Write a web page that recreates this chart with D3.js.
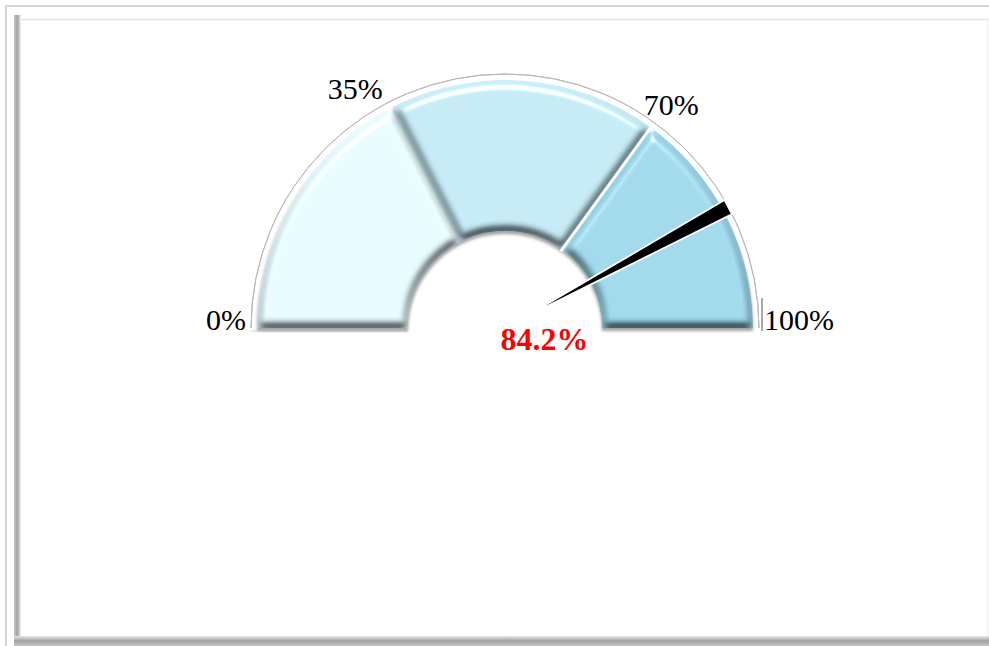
<!DOCTYPE html>
<html>
<head>
<meta charset="utf-8">
<script src="https://cdn.jsdelivr.net/npm/d3@7"></script>
<style>
  html, body { margin: 0; padding: 0; background: #fff; }
  svg { display: block; }
  text { font-family: "Liberation Serif", "Times New Roman", serif; }
</style>
</head>
<body>
<svg id="chart" width="989" height="646"></svg>
<script>
// ── Data ──────────────────────────────────────────────────────────────────
const bandStops = [0, 35, 70, 100];
const tickValues = [0, 35, 70, 100];
const tickLabels = ["0%", "35%", "70%", "100%"];
const gaugeValue = 84.2;
const valueLabel = "84.2%";

const BAND_COLORS = ["#e6f9fd", "#c3e9f3", "#9ed8ea"];

// ── Layout ────────────────────────────────────────────────────────────────
const W = 989, H = 646;
const cx = 505, cy = 328;
const rInner = 97, rOuter = 248, rRim = 254;

const svg = d3.select("#chart");
const defs = svg.append("defs");

// bevel + shadow filter
const f = defs.append("filter").attr("id", "bevel")
  .attr("x", "-10%").attr("y", "-10%").attr("width", "120%").attr("height", "120%");
f.append("feMorphology").attr("in", "SourceAlpha").attr("operator", "erode").attr("radius", 2).attr("result", "eroded");
f.append("feGaussianBlur").attr("in", "eroded").attr("stdDeviation", 3.5).attr("result", "blur");
f.append("feDiffuseLighting").attr("in", "blur").attr("surfaceScale", 6)
  .attr("diffuseConstant", 1.16).attr("lighting-color", "#fff").attr("result", "diff")
  .append("feDistantLight").attr("azimuth", 265).attr("elevation", 60);
f.append("feComposite").attr("in", "diff").attr("in2", "SourceGraphic")
  .attr("operator", "arithmetic").attr("k1", 1).attr("result", "lit");
f.append("feSpecularLighting").attr("in", "blur").attr("surfaceScale", 6)
  .attr("specularConstant", 0.9).attr("specularExponent", 30)
  .attr("lighting-color", "#fff").attr("result", "spec")
  .append("feDistantLight").attr("azimuth", 265).attr("elevation", 35);
f.append("feComposite").attr("in", "spec").attr("in2", "SourceAlpha")
  .attr("operator", "in").attr("result", "specIn");
f.append("feComposite").attr("in", "lit").attr("in2", "specIn")
  .attr("operator", "arithmetic").attr("k2", 1).attr("k3", 1).attr("result", "bev");
f.append("feComposite").attr("in", "bev").attr("in2", "SourceAlpha")
  .attr("operator", "in").attr("result", "bevIn");
f.append("feOffset").attr("in", "SourceAlpha").attr("dy", 3).attr("dx", 0).attr("result", "off");
f.append("feGaussianBlur").attr("in", "off").attr("stdDeviation", 1.5).attr("result", "offBlur");
f.append("feFlood").attr("flood-color", "#7a7a7a").attr("flood-opacity", 0.7).attr("result", "flood");
f.append("feComposite").attr("in", "flood").attr("in2", "offBlur").attr("operator", "in").attr("result", "shadow");
const fm = f.append("feMerge");
fm.append("feMergeNode").attr("in", "shadow");
fm.append("feMergeNode").attr("in", "bevIn");

// frame gradients
const gLeft = defs.append("linearGradient").attr("id", "frameLeft")
  .attr("x1", 0).attr("x2", 1).attr("y1", 0).attr("y2", 0);
gLeft.append("stop").attr("offset", 0).attr("stop-color", "#c4c4c4");
gLeft.append("stop").attr("offset", 0.5).attr("stop-color", "#a4a4a4");
gLeft.append("stop").attr("offset", 1).attr("stop-color", "#f2f2f2");
const gBottom = defs.append("linearGradient").attr("id", "frameBottom")
  .attr("x1", 0).attr("x2", 0).attr("y1", 0).attr("y2", 1);
gBottom.append("stop").attr("offset", 0).attr("stop-color", "#e6e6e6");
gBottom.append("stop").attr("offset", 0.5).attr("stop-color", "#a2a2a2");
gBottom.append("stop").attr("offset", 1).attr("stop-color", "#c8c8c8");

// ── Frame ─────────────────────────────────────────────────────────────────
svg.append("rect").attr("x", 6).attr("y", 6).attr("width", W + 10).attr("height", H + 10)
  .attr("fill", "none").attr("stroke", "#d6d6d6").attr("stroke-width", 2);
svg.append("rect").attr("x", 14).attr("y", 15).attr("width", 7).attr("height", 628)
  .attr("fill", "url(#frameLeft)");
svg.append("rect").attr("x", 14).attr("y", 636).attr("width", W).attr("height", 10)
  .attr("fill", "url(#frameBottom)");
svg.append("line").attr("x1", 21).attr("x2", W).attr("y1", 19.5).attr("y2", 19.5)
  .attr("stroke", "#e4e4e4").attr("stroke-width", 1.5);
svg.append("line").attr("x1", W - 1).attr("x2", W - 1).attr("y1", 19).attr("y2", 636)
  .attr("stroke", "#ececec").attr("stroke-width", 1);

// ── Gauge ─────────────────────────────────────────────────────────────────
const angle = d3.scaleLinear().domain([0, 100]).range([-Math.PI / 2, Math.PI / 2]);
const polar = (v, r) => [cx + r * Math.sin(angle(v)), cy - r * Math.cos(angle(v))];

const g = svg.append("g");

// rim outline
const rimArc = d3.arc().innerRadius(rRim).outerRadius(rRim)
  .startAngle(angle(0)).endAngle(angle(100));
g.append("path").attr("transform", `translate(${cx},${cy})`)
  .attr("d", rimArc()).attr("fill", "none").attr("stroke", "#b8b8b8").attr("stroke-width", 1);
g.append("line")
  .attr("x1", polar(0, rRim)[0]).attr("x2", polar(0, rInner)[0])
  .attr("y1", cy + 3).attr("y2", cy + 3)
  .attr("stroke", "#d0d0d0").attr("stroke-width", 1);
g.append("line")
  .attr("x1", polar(100, rRim)[0] + 3).attr("x2", polar(100, rRim)[0] + 3)
  .attr("y1", cy - 30).attr("y2", cy + 3)
  .attr("stroke", "#555").attr("stroke-width", 1);

// bands
const bands = d3.pairs(bandStops).map(([a, b], i) => ({ from: a, to: b, color: BAND_COLORS[i] }));
const bandArc = d3.arc().innerRadius(rInner).outerRadius(rOuter)
  .startAngle((d) => angle(d.from)).endAngle((d) => angle(d.to));

g.append("g").attr("transform", `translate(${cx},${cy})`)
  .selectAll("path")
  .data(bands)
  .join("path")
  .attr("d", bandArc)
  .attr("fill", (d) => d.color)
  .attr("filter", "url(#bevel)");

// white seam at the 70% boundary
const seam = bandStops[2];
g.append("line")
  .attr("x1", polar(seam, rInner - 2)[0]).attr("y1", polar(seam, rInner - 2)[1])
  .attr("x2", polar(seam, rOuter + 4)[0]).attr("y2", polar(seam, rOuter + 4)[1])
  .attr("stroke", "#fff").attr("stroke-width", 3);

// needle
const tipR = 45, baseR = rOuter + 5, halfW = 7;
const a = angle(gaugeValue);
const ux = Math.sin(a), uy = -Math.cos(a);
const tip = polar(gaugeValue, tipR);
const base = polar(gaugeValue, baseR);
const needlePts = [
  tip,
  [base[0] - uy * halfW, base[1] + ux * halfW],
  [base[0] + uy * halfW, base[1] - ux * halfW],
];
g.append("path")
  .attr("d", d3.line()(needlePts) + "Z")
  .attr("fill", "#000")
  .attr("stroke", "#fff")
  .attr("stroke-width", 3.5)
  .attr("stroke-linejoin", "miter")
  .attr("paint-order", "stroke");

// tick labels
g.selectAll("text.tick")
  .data(tickValues)
  .join("text")
  .attr("class", "tick")
  .attr("x", (d) => {
    if (d === 0 || d === 100) return polar(d, 259)[0];
    return d < 50 ? polar(d, 258)[0] - 5 : polar(d, 276)[0] + 4;
  })
  .attr("y", (d) => {
    if (d === 0 || d === 100) return cy + 2;
    return d < 50 ? polar(d, 258)[1] + 1 : polar(d, 276)[1] + 10;
  })
  .attr("text-anchor", (d) => (d === 0 ? "end" : d === 100 ? "start" : d < 50 ? "end" : "middle"))
  .attr("font-size", 30)
  .attr("fill", "#000")
  .text((d, i) => tickLabels[i]);

// value label
g.append("text")
  .attr("x", tip[0])
  .attr("y", tip[1] + 43)
  .attr("text-anchor", "middle")
  .attr("font-size", 32)
  .attr("font-weight", "bold")
  .attr("fill", "#ff0000")
  .text(valueLabel);
</script>
</body>
</html>
